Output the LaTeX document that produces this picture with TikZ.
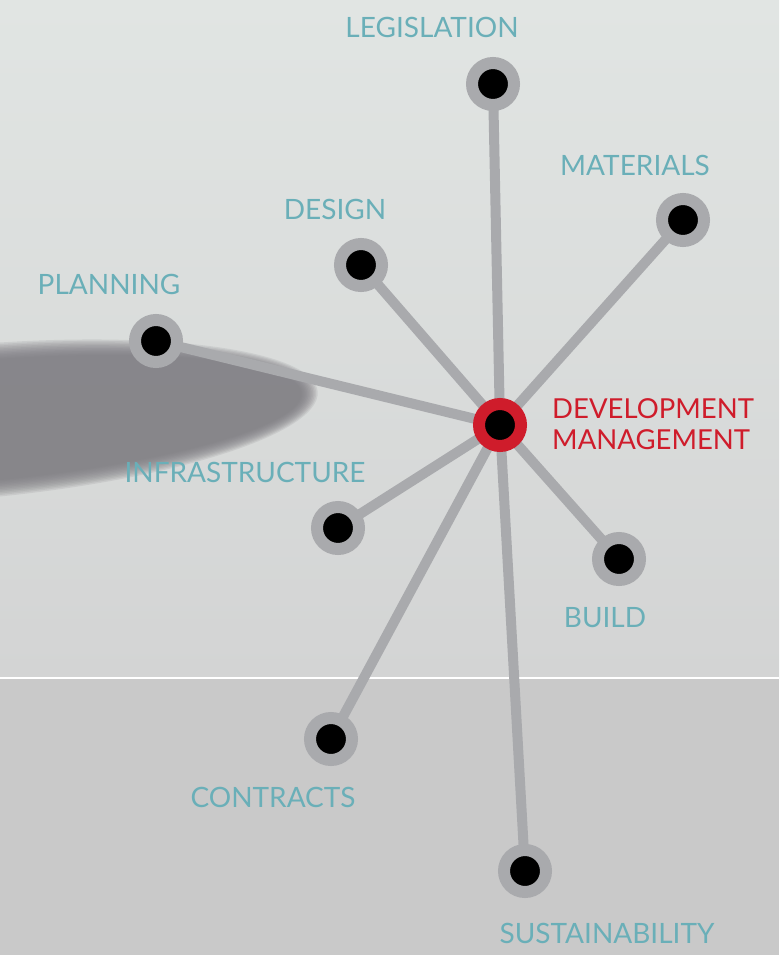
\documentclass[tikz,border=0pt]{standalone}
\usepackage{fontspec}
\setmainfont{Lato}
\usetikzlibrary{positioning}
\definecolor{ringgray}{HTML}{A9AAAD}
\definecolor{labelteal}{HTML}{6AAFB8}
\definecolor{dmred}{HTML}{CF1C2B}
\definecolor{skytop}{HTML}{E1E5E3}
\definecolor{skylow}{HTML}{D3D4D4}
\definecolor{floorgray}{HTML}{C9C9C9}
\definecolor{shadowgray}{HTML}{7C7B80}
\pgfdeclarelayer{bg}
\pgfdeclarelayer{spokes}
\pgfsetlayers{bg,spokes,main}

\begin{document}
\begin{tikzpicture}[x=1pt,y=-1pt,
  hub/.style={circle,fill=black,draw=ringgray,line width=12pt,minimum size=42pt,inner sep=0pt},
  spoke/.style={draw=ringgray,line width=10pt},
  topic/.style={text=labelteal,font=\fontsize{28}{30}\selectfont,inner sep=0pt}]
\useasboundingbox (0,0) rectangle (779,955);
% hub and its topics
\node[hub,draw=dmred] (dm) at (500,425) {};
\node[hub] (leg) at (493,84) {};
\node[hub] (mat) at (683,220) {};
\node[hub] (des) at (361,265) {};
\node[hub] (pla) at (156,341) {};
\node[hub] (inf) at (338,528) {};
\node[hub] (bui) at (619,559) {};
\node[hub] (con) at (331,739) {};
\node[hub] (sus) at (525,871) {};
% labels
\node[topic] (legtext) at (432,27) {LEGISLATION};
\node[topic] (mattext) at (635,165) {MATERIALS};
\node[topic] (destext) at (335,209) {DESIGN};
\node[topic] (platext) at (109,284) {PLANNING};
\node[topic] (inftext) at (245,472) {INFRASTRUCTURE};
\node[topic] (buitext) at (605,618) {BUILD};
\node[topic] (context) at (273,797) {CONTRACTS};
\node[topic] (sustext) at (607,933) {SUSTAINABILITY};
\node[topic,text=dmred,align=left,anchor=west,font=\fontsize{27.5}{31}\selectfont] (dmtext) at (552,424) {DEVELOPMENT\\MANAGEMENT};
% spokes
\begin{pgfonlayer}{spokes}
\foreach \t in {leg,mat,des,pla,inf,bui,con,sus}
  \draw[spoke] (dm.center) -- (\t.center);
\end{pgfonlayer}
% background
\begin{pgfonlayer}{bg}
\clip (0,0) rectangle (779,955);
\shade[top color=skytop,bottom color=skylow] (0,0) rectangle (779,678);
\fill[floorgray] (0,678) rectangle (779,955);
\draw[white,line width=2pt] (0,678) -- (779,678);
\foreach \i in {0,...,11}
  \fill[shadowgray,opacity=0.15,rotate around={5:(-30,422)}] (-30,422) ellipse ({349-1.5*\i} and {77-1.5*\i});
\end{pgfonlayer}
\end{tikzpicture}
\end{document}
